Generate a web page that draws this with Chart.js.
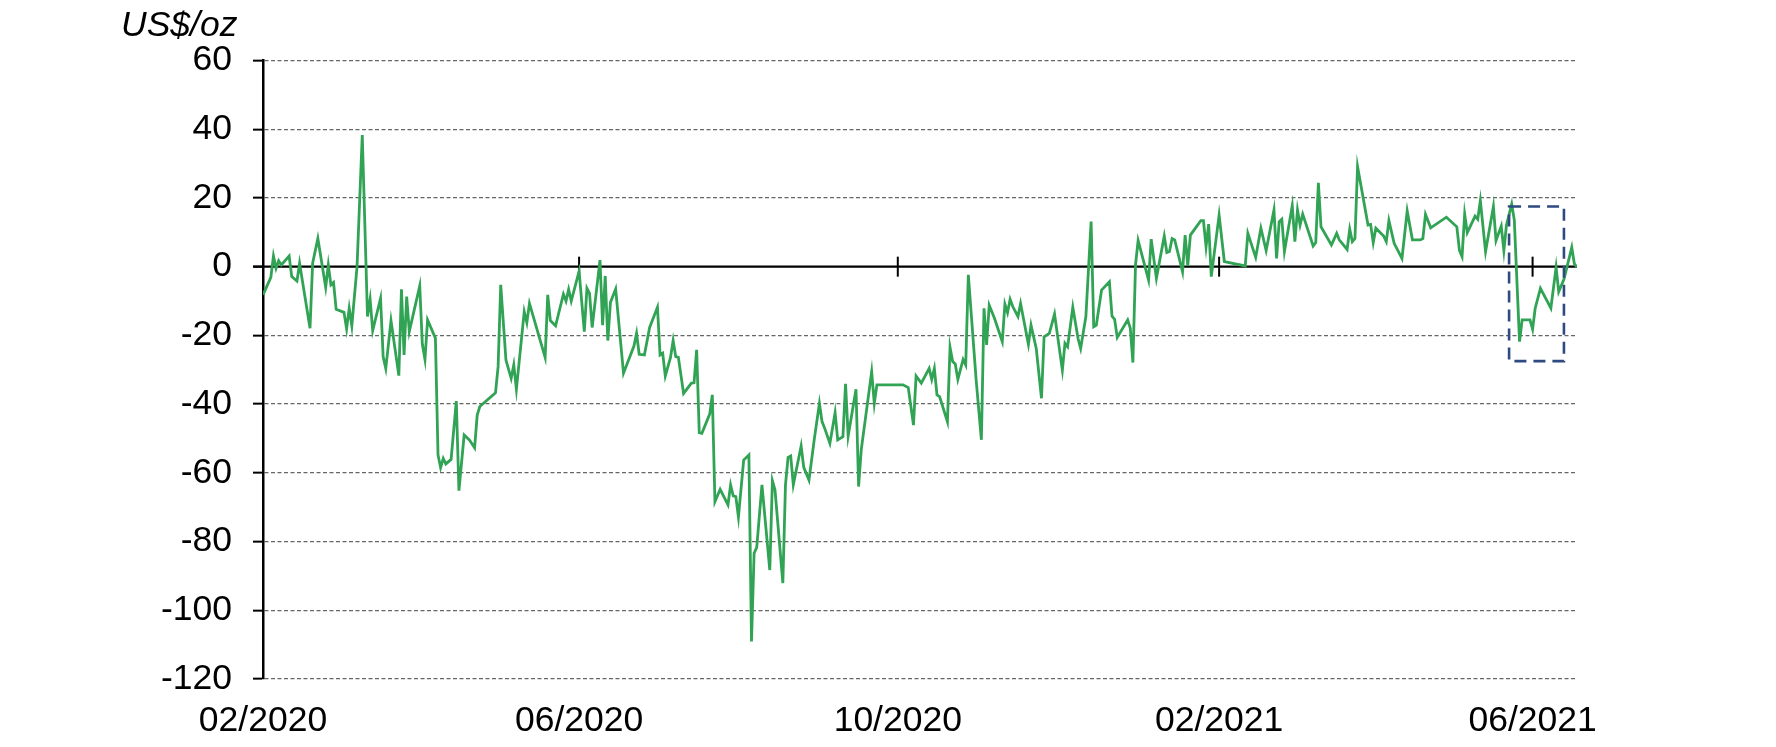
<!DOCTYPE html>
<html>
<head>
<meta charset="utf-8">
<script src="https://cdn.jsdelivr.net/npm/chart.js@4.4.1/dist/chart.umd.min.js"></script>
<style>
  html, body { margin: 0; padding: 0; background: #ffffff; }
  #wrap { position: relative; width: 1776px; height: 747px; }
</style>
</head>
<body>
<div id="wrap"><canvas id="c" width="1776" height="747"></canvas></div>
<script>
// x values: days since 2020-02-01
const dayOffsets = [
  0,3,4,5,6,7,10,11,13,14,18,19,21,24,25,26,27,28,31,32,33,34,36,38,40,41,42,45,46,47,49,52,53,54,55,56,60,61,62,63,66,67,68,69,70,72,74,75,77,79,81,82,83,89,90,91,93,95,96,97,
  100,101,102,108,109,110,112,115,116,117,118,121,123,124,125,126,129,130,131,132,133,135,138,142,143,144,146,148,151,152,153,154,156,157,158,159,161,164,165,166,167,168,171,172,173,175,178,179,180,181,182,184,186,187,188,189,191,194,195,196,199,
  200,201,202,203,206,207,209,210,211,213,214,215,217,218,219,220,222,223,224,227,228,229,233,234,235,245,247,249,250,252,255,256,257,258,259,262,263,264,265,266,268,269,270,273,275,276,277,278,280,283,284,285,286,287,289,290,293,294,296,298,299,
  301,303,306,307,308,310,312,313,315,317,318,319,321,324,325,326,327,331,332,333,334,335,339,340,342,345,346,347,348,349,352,353,354,355,359,360,361,362,363,366,368,376,377,380,382,384,387,388,389,390,391,394,395,396,397,398,
  402,403,404,405,409,411,412,415,416,417,418,419,423,424,425,426,429,430,431,433,436,438,440,443,444,445,447,453,457,458,459,460,461,464,465,466,468,471,472,474,475,476,478,479,481,482,485,486,487,489,493,495,496,498,501,502,503
];
// spread, US$/oz
const spreadValues = [
  -8.2,-3.1,3.1,-0.5,1.7,0.5,3.1,-2.9,-4.2,1.0,-17.9,1.0,8.2,-6.0,0.5,-5.3,-4.6,-12.4,-13.3,-18.1,-12.1,-17.2,0,38.3,-14.5,-9.5,-18.6,-9.2,-26.2,-29.6,-15.7,-31.7,-6.6,-25.7,-8.7,-18.9,-5.6,-22.6,-27.0,-15.5,-20.8,-54.8,-58.5,-55.8,-57.4,-56.1,-39.1,-65.2,-49.0,-50.4,-52.7,-43.2,-40.7,-36.7,-29.1,-5.3,-27.2,-32.5,-28.6,-35.7,
  -13.1,-16.3,-10.7,-26.4,-8.2,-15.7,-17.2,-8.0,-10.0,-6.6,-10.0,-1.3,-18.9,-6.3,-7.8,-17.7,1.9,-17.0,-2.7,-21.5,-10.4,-6.5,-31.0,-23.1,-19.4,-25.5,-25.7,-17.7,-11.8,-25.7,-25.2,-31.8,-26.4,-21.5,-26.2,-26.4,-36.9,-33.9,-33.8,-24.2,-48.3,-48.5,-42.9,-37.3,-68.4,-64.8,-69.3,-63.5,-66.7,-66.9,-72.9,-56.3,-54.8,-109.1,-83.4,-81.7,-63.5,-88.3,-62.3,-65.0,-92.1,
  -63.5,-55.5,-55.1,-63.5,-52.2,-58.4,-62.1,-56.3,-50.4,-39.8,-45.1,-47.0,-51.4,-47.0,-42.5,-50.4,-49.5,-34.1,-49.3,-35.7,-64.0,-53.3,-30.6,-39.8,-34.4,-34.4,-35.2,-46.1,-31.8,-33.9,-29.6,-32.8,-29.6,-37.3,-37.8,-45.1,-23.5,-27.6,-28.3,-32.8,-27.0,-28.6,-2.4,-33.0,-50.4,-12.1,-22.8,-11.2,-15.0,-21.8,-10.9,-13.4,-9.5,-11.6,-14.5,-10.7,-22.6,-17.0,-23.8,-38.3,-20.4,
  -19.4,-13.8,-30.1,-22.3,-23.3,-11.8,-20.9,-23.8,-14.5,13.1,-17.5,-17.0,-6.8,-4.4,-14.4,-15.3,-20.6,-15.5,-17.9,-27.9,0.5,7.6,-3.9,8.0,-3.4,8.9,4.1,4.4,8.2,7.8,-1.5,9.2,0.2,9.2,13.4,13.4,5.8,12.4,-2.9,15.0,1.5,0.2,9.7,2.7,11.2,4.7,16.5,2.4,13.1,13.8,4.4,17.7,7.3,16.5,12.1,15.3,
  6.0,7.0,24.4,11.6,6.3,9.7,7.8,5.0,10.9,7.3,8.2,29.1,12.1,12.3,7.0,11.2,8.9,7.3,13.4,6.8,2.4,16.2,7.8,7.8,8.2,15.2,11.3,14.4,11.6,4.7,2.9,15.3,9.9,14.7,13.8,19.2,4.4,17.5,7.6,11.8,4.7,12.1,18.2,13.6,-21.8,-15.5,-15.5,-18.2,-12.1,-6.3,-12.1,-0.2,-7.3,-3.7,5.6,0.8,-0.2
];
const tickDays = [0, 121, 243, 366, 486];
const tickLabels = ['02/2020', '06/2020', '10/2020', '02/2021', '06/2021'];
const yTickValues = [-120, -100, -80, -60, -40, -20, 0, 20, 40, 60];
const highlightDays = [477, 498];
const highlightValues = [-27.5, 17.5];
const unitLabel = 'US$/oz';

const FONT = '"Liberation Sans", Arial, Helvetica, sans-serif';
const FONT_SIZE = 35.5;

const overlay = {
  id: 'overlay',
  beforeDatasetsDraw(chart) {
    const { ctx, chartArea, scales: { x, y } } = chart;
    const y0 = y.getPixelForValue(0);
    ctx.save();
    ctx.strokeStyle = '#000000';
    ctx.lineWidth = 2.2;
    ctx.beginPath();
    ctx.moveTo(chartArea.left - 10, y0);
    ctx.lineTo(chartArea.right, y0);
    ctx.stroke();
    ctx.lineWidth = 2;
    tickDays.slice(1).forEach(d => {
      const px = x.getPixelForValue(d);
      ctx.beginPath();
      ctx.moveTo(px, y0 - 10);
      ctx.lineTo(px, y0 + 10);
      ctx.stroke();
    });
    ctx.restore();
  },
  afterDatasetsDraw(chart) {
    const { ctx, scales: { x, y } } = chart;
    const x1 = x.getPixelForValue(highlightDays[0]);
    const x2 = x.getPixelForValue(highlightDays[1]);
    const y1 = y.getPixelForValue(highlightValues[1]);
    const y2 = y.getPixelForValue(highlightValues[0]);
    ctx.save();
    ctx.strokeStyle = '#2e4a80';
    ctx.lineWidth = 2.6;
    ctx.setLineDash([12, 7]);
    ctx.strokeRect(x1, y1, x2 - x1, y2 - y1);
    ctx.restore();
  },
  afterDraw(chart) {
    const { ctx, chartArea } = chart;
    ctx.save();
    ctx.fillStyle = '#000000';
    ctx.font = 'italic ' + FONT_SIZE + 'px ' + FONT;
    ctx.textAlign = 'left';
    ctx.textBaseline = 'alphabetic';
    ctx.fillText(unitLabel, chartArea.left - 142, chartArea.top - 25);
    ctx.restore();
  }
};

new Chart(document.getElementById('c'), {
  type: 'line',
  data: {
    datasets: [{
      data: dayOffsets.map((d, i) => ({ x: d, y: spreadValues[i] })),
      borderColor: '#31a354',
      borderWidth: 2.8,
      pointRadius: 0,
      tension: 0,
      fill: false
    }]
  },
  options: {
    responsive: false,
    animation: false,
    layout: { padding: { left: 0, right: 199, top: 60.5, bottom: 0 } },
    plugins: { legend: { display: false }, tooltip: { enabled: false } },
    scales: {
      x: {
        type: 'linear',
        min: 0,
        max: 503,
        afterBuildTicks: s => { s.ticks = tickDays.map(v => ({ value: v })); },
        afterFit: s => { s.height = 68; },
        grid: { display: false },
        border: { display: false },
        ticks: {
          autoSkip: false,
          maxRotation: 0,
          padding: 13,
          color: '#000000',
          font: { family: FONT, size: FONT_SIZE },
          callback: (v, i) => tickLabels[i]
        }
      },
      y: {
        min: -120,
        max: 60,
        afterBuildTicks: s => { s.ticks = yTickValues.map(v => ({ value: v })); },
        afterFit: s => { s.width = 263; },
        grid: {
          color: c => (c.tick && c.tick.value === 0) ? 'rgba(0,0,0,0)' : '#666666',
          lineWidth: 1.3,
          drawTicks: true,
          tickLength: 10,
          tickColor: '#000000',
          tickWidth: 2
        },
        border: { display: true, color: '#000000', width: 2.5, dash: [4, 2.5] },
        ticks: {
          padding: 21,
          color: '#000000',
          font: { family: FONT, size: FONT_SIZE },
          callback: v => String(v)
        }
      }
    }
  },
  plugins: [overlay]
});
</script>
</body>
</html>
